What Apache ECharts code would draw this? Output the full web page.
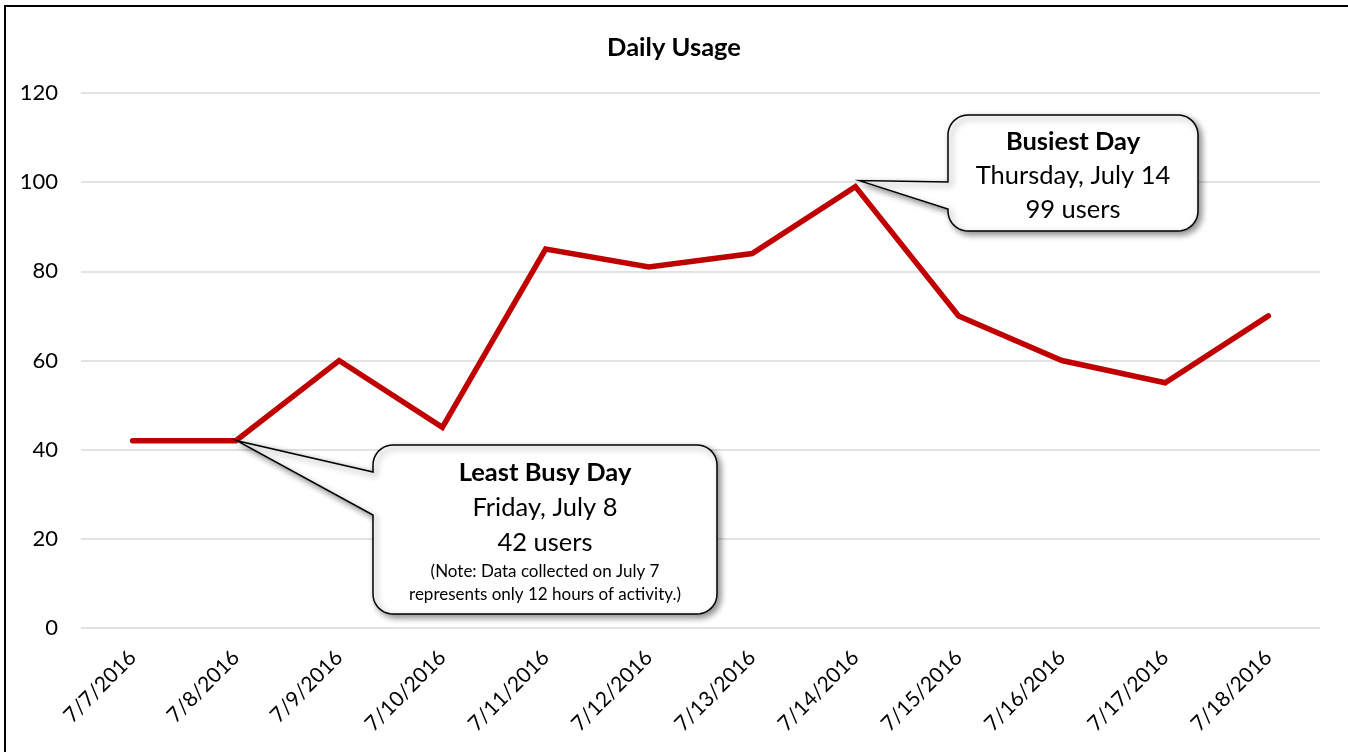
<!DOCTYPE html>
<html><head><meta charset="utf-8">
<script src="https://cdn.jsdelivr.net/npm/echarts@6/dist/echarts.min.js"></script>
<style>html,body{margin:0;padding:0;background:#fff}#c{width:1348px;height:752px}</style>
</head><body><div id="c"></div>
<script>
const categories = ['7/7/2016','7/8/2016','7/9/2016','7/10/2016','7/11/2016','7/12/2016','7/13/2016','7/14/2016','7/15/2016','7/16/2016','7/17/2016','7/18/2016'];
const users = [42, 42, 60, 45, 85, 81, 84, 99, 70, 60, 55, 70];
const yTicks = [0, 20, 40, 60, 80, 100, 120];
const titleText = 'Daily Usage';
const busiest = {index: 7, lines: ['Busiest Day', 'Thursday, July 14', '99 users']};
const least = {index: 1, lines: ['Least Busy Day', 'Friday, July 8', '42 users'], note: ['(Note: Data collected on July 7', 'represents only 12 hours of activity.)']};

const FONT = 'Lato, Carlito, "Open Sans", sans-serif';
const chart = echarts.init(document.getElementById('c'));
chart.setOption({
  animation: false,
  backgroundColor: '#fff',
  title: {text: titleText, left: 'center', top: 30, textStyle: {fontFamily: FONT, fontWeight: 'bold', fontSize: 25.5, color: '#000'}},
  grid: {left: 81, right: 28, top: 93, bottom: 124, containLabel: false},
  xAxis: {type: 'category', data: categories, boundaryGap: true,
    axisLine: {show: false}, axisTick: {show: false},
    axisLabel: {rotate: 45, margin: 26, fontFamily: FONT, fontSize: 21, color: '#000', interval: 0}},
  yAxis: {type: 'value', min: yTicks[0], max: yTicks[yTicks.length-1], interval: yTicks[1]-yTicks[0],
    axisLine: {show: false}, axisTick: {show: false},
    axisLabel: {margin: 23, fontFamily: FONT, fontSize: 22, color: '#000'},
    splitLine: {lineStyle: {color: '#d9d9d9', width: 1.5}}},
  series: [{type: 'line', data: users, showSymbol: false, symbol: 'none',
    lineStyle: {color: '#c00000', width: 5.5, join: 'miter', cap: 'round'}, z: 3}]
});

function arcPts(cx, cy, r, a0, a1) {
  const pts = [];
  for (let i = 0; i <= 10; i++) {
    const t = a0 + (a1 - a0) * i / 10;
    pts.push([cx + r * Math.cos(t), cy + r * Math.sin(t)]);
  }
  return pts;
}
function calloutPoints(x0, y0, w, h, r, a, b, tx, ty) {
  const P = Math.PI;
  let pts = [];
  pts = pts.concat(arcPts(x0 + r, y0 + r, r, P, 1.5 * P));
  pts = pts.concat(arcPts(x0 + w - r, y0 + r, r, 1.5 * P, 2 * P));
  pts = pts.concat(arcPts(x0 + w - r, y0 + h - r, r, 0, 0.5 * P));
  pts = pts.concat(arcPts(x0 + r, y0 + h - r, r, 0.5 * P, P));
  pts.push([x0, b], [tx, ty], [x0, a]);
  return pts;
}
function callout(ptIdx, dx, dy, w, h, a, b, tipDx, tipDy, texts) {
  const p = chart.convertToPixel({gridIndex: 0}, [ptIdx, users[ptIdx]]);
  const x0 = Math.round(p[0] + dx), y0 = Math.round(p[1] + dy);
  const els = [{type: 'polygon', z: 10,
    shape: {points: calloutPoints(x0, y0, w, h, 20, y0 + a, y0 + b, p[0] + tipDx, p[1] + tipDy)},
    style: {fill: '#fff', stroke: '#000', lineWidth: 1.5, shadowBlur: 6, shadowOffsetX: 3, shadowOffsetY: 3, shadowColor: 'rgba(0,0,0,0.45)'}}];
  texts.forEach(t => els.push({type: 'text', z: 11, x: x0 + w/2, y: y0 + t.y,
    style: {text: t.s, font: (t.bold ? 'bold ' : '') + t.size + 'px ' + FONT, fill: '#000', textAlign: 'center', textVerticalAlign: 'middle', align: 'center', verticalAlign: 'middle'}}));
  return els;
}
const g = [];
g.push({type: 'rect', z: 0, shape: {x: 5, y: 6, width: 1400, height: 800}, style: {fill: 'none', stroke: '#000', lineWidth: 2}});
g.push(...callout(busiest.index, 93, -72, 250, 116, 67, 94, 4, -6, [
  {s: busiest.lines[0], y: 27, size: 25.5, bold: true},
  {s: busiest.lines[1], y: 61, size: 25.5},
  {s: busiest.lines[2], y: 95, size: 25.5}]));
g.push(...callout(least.index, 137, 4, 344, 169, 27, 70, 1, 0, [
  {s: least.lines[0], y: 28, size: 25.5, bold: true},
  {s: least.lines[1], y: 63, size: 25.5},
  {s: least.lines[2], y: 98, size: 25.5},
  {s: least.note[0], y: 127, size: 17},
  {s: least.note[1], y: 150, size: 17}]));
chart.setOption({graphic: {elements: g}});
</script></body></html>
